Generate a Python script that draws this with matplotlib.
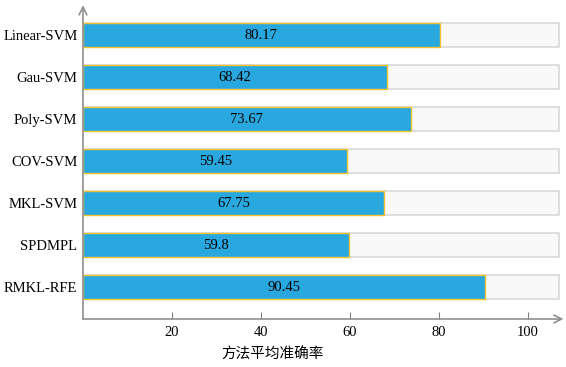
import matplotlib.pyplot as plt

# 数据
methods = ['Linear-SVM', 'Gau-SVM', 'Poly-SVM', 'COV-SVM', 'MKL-SVM', 'SPDMPL', 'RMKL-RFE']
accuracy = [80.17, 68.42, 73.67, 59.45, 67.75, 59.8, 90.45]
xticks = [20, 40, 60, 80, 100]
bg_full = 107

plt.rcParams['font.family'] = ['Liberation Serif', 'Noto Sans CJK SC']

fig = plt.figure(figsize=(5.66, 3.67), dpi=100)
ax = fig.add_axes([0.1466, 0.1308, 0.849, 0.855])

ypos = list(range(len(methods)))[::-1]

# 背景条
ax.barh(ypos, [bg_full] * len(methods), height=0.57, color='#f9f9f9',
        edgecolor='#d9d9d9', linewidth=1.2, zorder=1)
# 数据条
ax.barh(ypos, accuracy, height=0.57, color='#29a8e0',
        edgecolor='#f2c230', linewidth=1.0, zorder=2)

for y, v in zip(ypos, accuracy):
    ax.text(v / 2, y, str(v), ha='center', va='center', fontsize=10.5, zorder=3)

ax.set_yticks(ypos)
ax.set_yticklabels(methods, fontsize=10.5)
ax.set_xticks(xticks)
ax.set_xticklabels([str(t) for t in xticks], fontsize=10.5)
ax.set_xlim(0, 108)
ax.set_ylim(-0.762, 6.714)

ax.tick_params(axis='y', length=0, pad=4)
ax.tick_params(axis='x', direction='in', length=5, color='#808080', pad=5)

for s in ['top', 'right', 'left', 'bottom']:
    ax.spines[s].set_visible(False)

# 坐标轴箭头
ax.annotate('', xy=(1.0, 0), xycoords='axes fraction', xytext=(0, 0),
            arrowprops=dict(arrowstyle='->', color='#909090', lw=1.2,
                            mutation_scale=14, shrinkA=0, shrinkB=0))
ax.annotate('', xy=(0, 1.0), xycoords='axes fraction', xytext=(0, 0),
            arrowprops=dict(arrowstyle='->', color='#909090', lw=1.2,
                            mutation_scale=14, shrinkA=0, shrinkB=0))

# x轴标题（偏左放置）
fig.text(0.4806, 0.0327, '方法平均准确率', ha='center', va='center', fontsize=10.5,
         family=['Noto Sans CJK SC'])

fig.savefig('out.png', dpi=100)
